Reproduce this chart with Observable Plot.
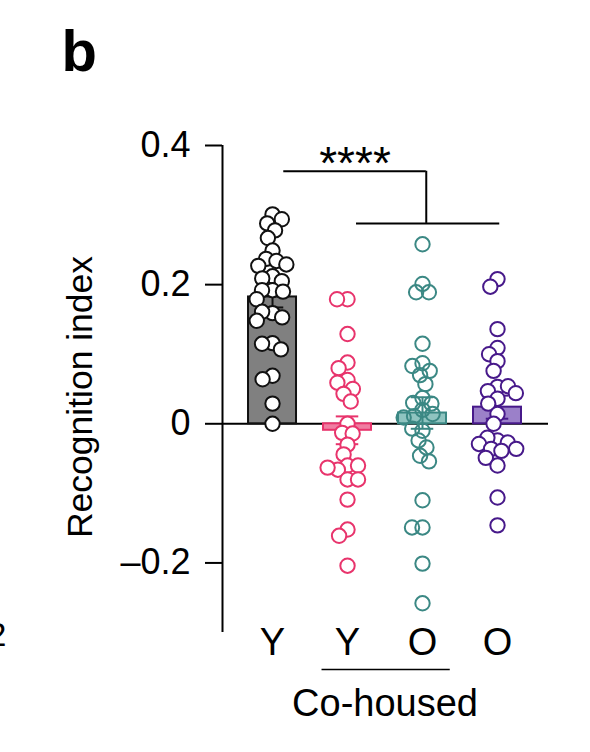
<!DOCTYPE html>
<html>
<head>
<meta charset="utf-8">
<script src="https://cdn.jsdelivr.net/npm/d3@7"></script>
<script src="https://cdn.jsdelivr.net/npm/@observablehq/plot@0.6"></script>
<style>
  body { margin: 0; background: #fff; }
  #chart svg { display: block; }
</style>
</head>
<body>
<div id="chart"></div>
<script>
// Groups along the x axis and their tick labels
const groups = ["Y", "Y co-housed", "O co-housed", "O"];
const tickLabels = ["Y", "Y", "O", "O"];
const cohousedGroups = [1, 2];

// Per-animal recognition index, one list per group
const youngValues = [0.301, 0.288, 0.294, 0.278, 0.267, 0.249, 0.237, 0.234, 0.229, 0.227,
  0.212, 0.209, 0.205, 0.192, 0.192, 0.190, 0.179, 0.159, 0.161, 0.153,
  0.148, 0.116, 0.115, 0.107, 0.069, 0.064, 0.029, 0.000];
const youngCohousedValues = [0.179, 0.179, 0.129, 0.088, 0.080, 0.063, 0.059, 0.050, 0.043, 0.032,
  0.000, -0.013, -0.014, -0.030, -0.044, -0.060, -0.066, -0.060, -0.063, -0.080,
  -0.080, -0.109, -0.152, -0.161, -0.204];
const oldCohousedValues = [0.258, 0.201, 0.189, 0.189, 0.115, 0.087, 0.083, 0.076, 0.070, 0.057,
  0.037, 0.030, 0.029, 0.020, 0.011, 0.014, 0.009, -0.010, -0.007, -0.024,
  -0.034, -0.046, -0.054, -0.110, -0.149, -0.149, -0.201, -0.258];
const oldValues = [0.208, 0.197, 0.136, 0.109, 0.100, 0.090, 0.076, 0.053, 0.047, 0.054,
  0.044, 0.036, 0.029, 0.014, 0.000, -0.024, -0.020, -0.027, -0.029, -0.036,
  -0.039, -0.036, -0.049, -0.060, -0.106, -0.146];
const groupValues = [youngValues, youngCohousedValues, oldCohousedValues, oldValues];

// Colours per group
const strokeColors = ["#111111", "#e8346c", "#3b8884", "#47198a"];
const barColors = ["#808080", "#ef7ea2", "#8fc4c0", "#9b80c9"];
const dotFills = ["#ffffff", "#ffffff", "none", "#ffffff"];

// Significance annotation: Y vs the three other groups
const yTicks = [-0.2, 0, 0.2, 0.4];
const bracketTop = {y: 0.363, x1: 0.15, x2: 2.05};
const bracketLow = {y: 0.288, x1: 1.12, x2: 3.03};
const stars = "****";

// Layout
const W = 590, H = 752;
const margin = {top: 145, right: 42, bottom: 120, left: 222};
const xDomain = [-0.667, 3.68];
const yDomain = [-0.3, 0.4];
const pxPerX = (W - margin.left - margin.right) / (xDomain[1] - xDomain[0]);
const pxPerY = (H - margin.top - margin.bottom) / (yDomain[1] - yDomain[0]);

// Beeswarm: each dot takes the offset nearest the group centre that keeps
// it at least `gap` pixels from the dots already placed.
function swarm(values, gap) {
  const placed = [];
  return values.map((v) => {
    const y = v * pxPerY;
    const cands = [0];
    for (const p of placed) {
      const dy = y - p.y;
      if (Math.abs(dy) < gap) {
        const dx = Math.sqrt(gap * gap - dy * dy);
        cands.push(p.x - dx, p.x + dx);
      }
    }
    cands.sort((a, b) => Math.abs(a) - Math.abs(b) || a - b);
    const x = cands.find((c) => placed.every((p) => (c - p.x) ** 2 + (y - p.y) ** 2 >= gap * gap - 1e-6));
    placed.push({x, y});
    return x;
  });
}

const dots = groupValues.flatMap((vals, g) => {
  const offs = swarm(vals, 10.5);
  return vals.map((v, k) => ({g, value: v, x: g + offs[k] / pxPerX}));
});

const stats = groupValues.map((vals, g) => {
  const mean = d3.mean(vals);
  const sem = d3.deviation(vals) / Math.sqrt(vals.length);
  return {g, mean, lo: mean - sem, hi: mean + sem};
});

const font = "'Liberation Sans', Arial, Helvetica, sans-serif";

const chart = Plot.plot({
  width: W,
  height: H,
  marginTop: margin.top,
  marginRight: margin.right,
  marginBottom: margin.bottom,
  marginLeft: margin.left,
  style: {fontFamily: font, fontSize: "36px", color: "#000", background: "#fff", overflow: "visible"},
  x: {domain: xDomain, axis: null},
  y: {domain: yDomain, axis: null},
  marks: [
    // y axis
    Plot.ruleX([xDomain[0]], {y1: yDomain[0], y2: yDomain[1], stroke: "#000", strokeWidth: 2}),
    Plot.axisY({
      ticks: yTicks, tickSize: 17, tickPadding: 15, strokeWidth: 2, fontSize: 36,
      tickFormat: (d) => (d === 0 ? "0" : d3.format(".1f")(d).replace("−", "–").replace("-", "–"))
    }),
    Plot.text(["Recognition index"], {
      frameAnchor: "left", rotate: -90, dx: -142, dy: 8, fontSize: 35.5,
      textAnchor: "middle", lineAnchor: "middle"
    }),
    // zero line
    Plot.ruleY([0], {stroke: "#000", strokeWidth: 2}),
    // bars (mean) and SEM
    Plot.rectY(stats, {
      x1: (d) => d.g - 0.32, x2: (d) => d.g + 0.32, y1: 0, y2: "mean",
      fill: (d) => barColors[d.g], stroke: (d) => strokeColors[d.g], strokeWidth: 2
    }),
    Plot.ruleX(stats, {x: "g", y1: "lo", y2: "hi", stroke: (d) => strokeColors[d.g], strokeWidth: 2}),
    Plot.ruleY(stats, {y: "hi", x1: (d) => d.g - 0.15, x2: (d) => d.g + 0.15, stroke: (d) => strokeColors[d.g], strokeWidth: 2}),
    Plot.ruleY(stats, {y: "lo", x1: (d) => d.g - 0.15, x2: (d) => d.g + 0.15, stroke: (d) => strokeColors[d.g], strokeWidth: 2}),
    // individual animals
    Plot.dot(dots, {
      x: "x", y: "value", r: 7.2,
      fill: (d) => dotFills[d.g], stroke: (d) => strokeColors[d.g], strokeWidth: 2
    }),
    // significance bracket
    Plot.ruleY([bracketTop], {y: "y", x1: "x1", x2: "x2", stroke: "#000", strokeWidth: 2}),
    Plot.ruleY([bracketLow], {y: "y", x1: "x1", x2: "x2", stroke: "#000", strokeWidth: 2}),
    Plot.ruleX([bracketTop], {x: "x2", y1: "y", y2: bracketLow.y, stroke: "#000", strokeWidth: 2}),
    Plot.text([stars], {
      x: (bracketTop.x1 + bracketTop.x2) / 2, y: bracketTop.y,
      lineAnchor: "bottom", dy: 8, fontSize: 46
    }),
    // group labels
    Plot.text(tickLabels, {
      x: (d, i) => i, y: yDomain[0], lineAnchor: "top", dy: -4, fontSize: 38
    }),
    Plot.ruleY([yDomain[0]], {
      x1: cohousedGroups[0] - 0.34, x2: cohousedGroups[1] + 0.37,
      dy: 37, stroke: "#000", strokeWidth: 1.5
    }),
    Plot.text(["Co-housed"], {
      x: (cohousedGroups[0] + cohousedGroups[1]) / 2, y: yDomain[0],
      lineAnchor: "middle", dy: 71, fontSize: 38
    }),
    // panel letter
    Plot.text(["b"], {
      frameAnchor: "top-left", dx: -161, dy: -75, textAnchor: "start",
      lineAnchor: "bottom", fontSize: 58, fontWeight: "bold"
    }),
    Plot.text(["2"], {
      frameAnchor: "bottom-left", dx: -216, dy: 13, textAnchor: "end",
      lineAnchor: "bottom", fontSize: 34
    })
  ]
});

document.getElementById("chart").append(chart);
</script>
</body>
</html>
